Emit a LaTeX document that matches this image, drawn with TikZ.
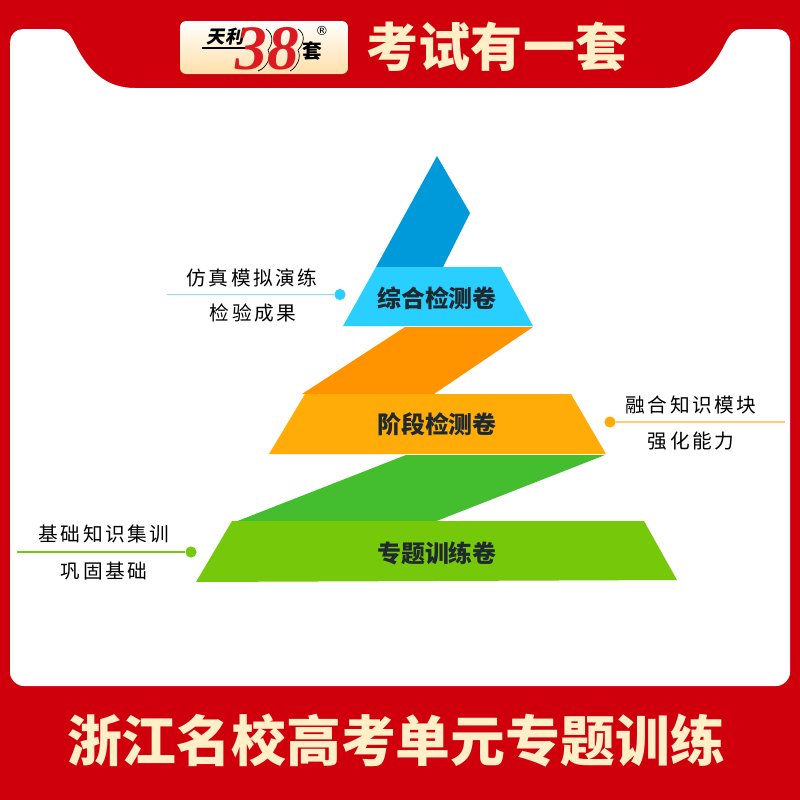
\documentclass[tikz,border=0pt]{standalone}
\usepackage{fontspec}
\setmainfont{Noto Sans CJK SC}
\newfontfamily\logofont{Liberation Serif}
\newfontfamily\markfont{DejaVu Sans}
\definecolor{framered}{HTML}{CF000C}
\definecolor{titlecream}{HTML}{FFEFC6}
\definecolor{logored}{HTML}{DC1A22}
\definecolor{inkdark}{HTML}{1E2A30}
\definecolor{bluedark}{HTML}{009ADA}
\definecolor{bluelight}{HTML}{29CFFF}
\definecolor{orangedark}{HTML}{FF9300}
\definecolor{orangelight}{HTML}{FFAB08}
\definecolor{greendark}{HTML}{44BD2E}
\definecolor{greenlight}{HTML}{76C90A}
\tikzset{
  levellabel/.style={font=\fontsize{34}{34}\selectfont\bfseries,text=inkdark,inner sep=0pt},
  sidelabel/.style={font=\fontsize{28}{28}\selectfont\addfontfeature{LetterSpace=13},text=black,inner sep=0pt},
  titletext/.style={font=\fontsize{#1}{#1}\selectfont\bfseries,text=titlecream,inner sep=0pt},
  pointer/.style={line width=2.6pt},
  pointerdot/.style={circle,inner sep=0pt,minimum size=5.6mm}
}
\begin{document}
\begin{tikzpicture}[x=0.5mm,y=-0.5mm]
  \useasboundingbox (0,0) rectangle (800,800);
  \fill[framered] (0,0) rectangle (800,800);
  % white panel with the red tab cut out of its top
  \fill[white] (10,42) to[out=90,in=180] (23,29) -- (58,29)
    .. controls (67,29) and (71,36) .. (75,44)
    .. controls (88,70) and (105,88) .. (135,88)
    -- (665,88)
    .. controls (695,88) and (712,70) .. (725,44)
    .. controls (729,36) and (733,29) .. (742,29)
    -- (777,29) to[out=0,in=90] (790,42) -- (790,672)
    to[out=-90,in=0] (776,686) -- (24,686) to[out=180,in=-90] (10,672) -- cycle;
  % logo plate
  \fill[top color=white,bottom color=titlecream!85!orange,rounded corners=3mm] (180,21) rectangle (348,74);
  \node[font=\fontsize{26}{26}\selectfont\bfseries\addfontfeature{FakeSlant=0.2},inner sep=0pt] (logoleft) at (225,37) {天利};
  \draw[line width=1.6pt] (202,48) -- (250,48);
  \draw[line width=1pt] (266,29) .. controls (274,34) and (273,44) .. (268,50) .. controls (272,58) and (266,68) .. (258,71);
  \draw[line width=1pt] (298,29) .. controls (306,34) and (304,44) .. (298,50) .. controls (302,58) and (296,68) .. (290,71);
  \node[font=\fontsize{90}{90}\selectfont\logofont\bfseries\itshape,text=logored,inner sep=0pt] (logonum) at (267,49) {38};
  \node[font=\fontsize{28}{28}\selectfont\bfseries,inner sep=0pt] (logoright) at (312,51) {套};
  \node[font=\fontsize{18}{18}\selectfont\markfont,inner sep=0pt] (logomark) at (322,31) {®};
  % titles
  \node[titletext=74] (headline) at (497,47) {考试有一套};
  \node[titletext=78] (footline) at (396,741) {浙江名校高考单元专题训练};
  % pyramid
  \fill[bluedark] (437,156) -- (470,213) -- (443,267) -- (376,267) -- cycle;
  \fill[bluelight] (376,267) -- (501,267) -- (533,326) -- (343,326) -- cycle;
  \fill[orangedark] (405,327) -- (533,327) -- (434,394) -- (302,394) -- cycle;
  \fill[orangelight] (305,394) -- (571,394) -- (606,454) -- (269,454) -- cycle;
  \fill[greendark] (406,455) -- (605,455) -- (434,522) -- (235,522) -- cycle;
  \fill[greenlight] (232,521) -- (644,521) -- (677,580) -- (196,582) -- cycle;
  \node[levellabel] (topname) at (437,298) {综合检测卷};
  \node[levellabel] (midname) at (437,424) {阶段检测卷};
  \node[levellabel] (lowname) at (437,553) {专题训练卷};
  % side notes
  \node[sidelabel] (topnotea) at (252,278) {仿真模拟演练};
  \node[sidelabel] (topnoteb) at (253,313) {检验成果};
  \node[sidelabel] (midnotea) at (691,405) {融合知识模块};
  \node[sidelabel] (midnoteb) at (691,441) {强化能力};
  \node[sidelabel] (lownotea) at (104,534) {基础知识集训};
  \node[sidelabel] (lownoteb) at (104,571) {巩固基础};
  \node[pointerdot,fill=bluelight] (topdot) at (340,294.5) {};
  \node[pointerdot,fill=orangelight] (middot) at (610,422) {};
  \node[pointerdot,fill=greenlight] (lowdot) at (191,552) {};
  \coordinate (topend) at (167,294.5);
  \coordinate (midend) at (785,422);
  \coordinate (lowend) at (17,552);
  \draw[pointer,bluelight!60] (topdot) -- (topend);
  \draw[pointer,orangelight!60] (middot) -- (midend);
  \draw[pointer,greenlight] (lowdot) -- (lowend);
\end{tikzpicture}
\end{document}
